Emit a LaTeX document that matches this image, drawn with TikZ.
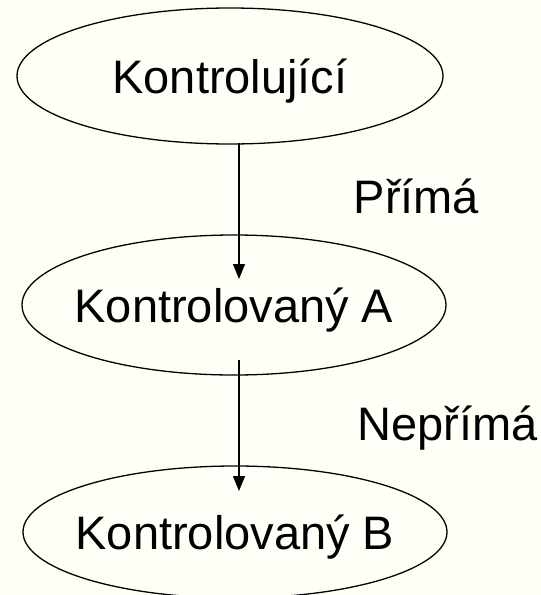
\documentclass[tikz,border=0pt]{standalone}
\usepackage{fontspec}
\setmainfont{Liberation Sans}
\usetikzlibrary{arrows.meta}
\definecolor{paper}{RGB}{255,255,247}

\begin{document}
\begin{tikzpicture}[x=1pt,y=-1pt,line width=1.3pt,
  lbl/.style={inner sep=0pt,text height=34pt,text depth=0pt,font=\fontsize{47}{56}\selectfont},
  side/.style={inner sep=0pt,anchor=base west,font=\fontsize{47}{56}\selectfont},
  arr/.style={-{Triangle[length=15pt,width=12pt]}}]
\fill [paper] (0,0) rectangle (541,595);
\useasboundingbox (0,0) rectangle (541,595);
\node [lbl] (ctrl) at (230,76) {Kontrolující};
\draw [black] (ctrl.center) ellipse [x radius=213pt,y radius=68pt];
\node [lbl] (ctrlA) at (234,305) {Kontrolovaný A};
\draw [black] (ctrlA.center) ellipse [x radius=212pt,y radius=70pt];
\node [lbl] (ctrlB) at (235,532) {Kontrolovaný B};
\draw [black] (ctrlB.center) ellipse [x radius=212pt,y radius=66pt];
\coordinate (topA) at (239,143);
\coordinate (tipA) at (239,279);
\coordinate (tailB) at (239,360);
\coordinate (tipB) at (239,491);
\draw [black,arr] (topA) -- (tipA);
\draw [black,arr] (tailB) -- (tipB);
\node [side] (direct) at (353,213) {Přímá};
\node [side] (indirect) at (357,440) {Nepřímá};
\end{tikzpicture}
\end{document}
